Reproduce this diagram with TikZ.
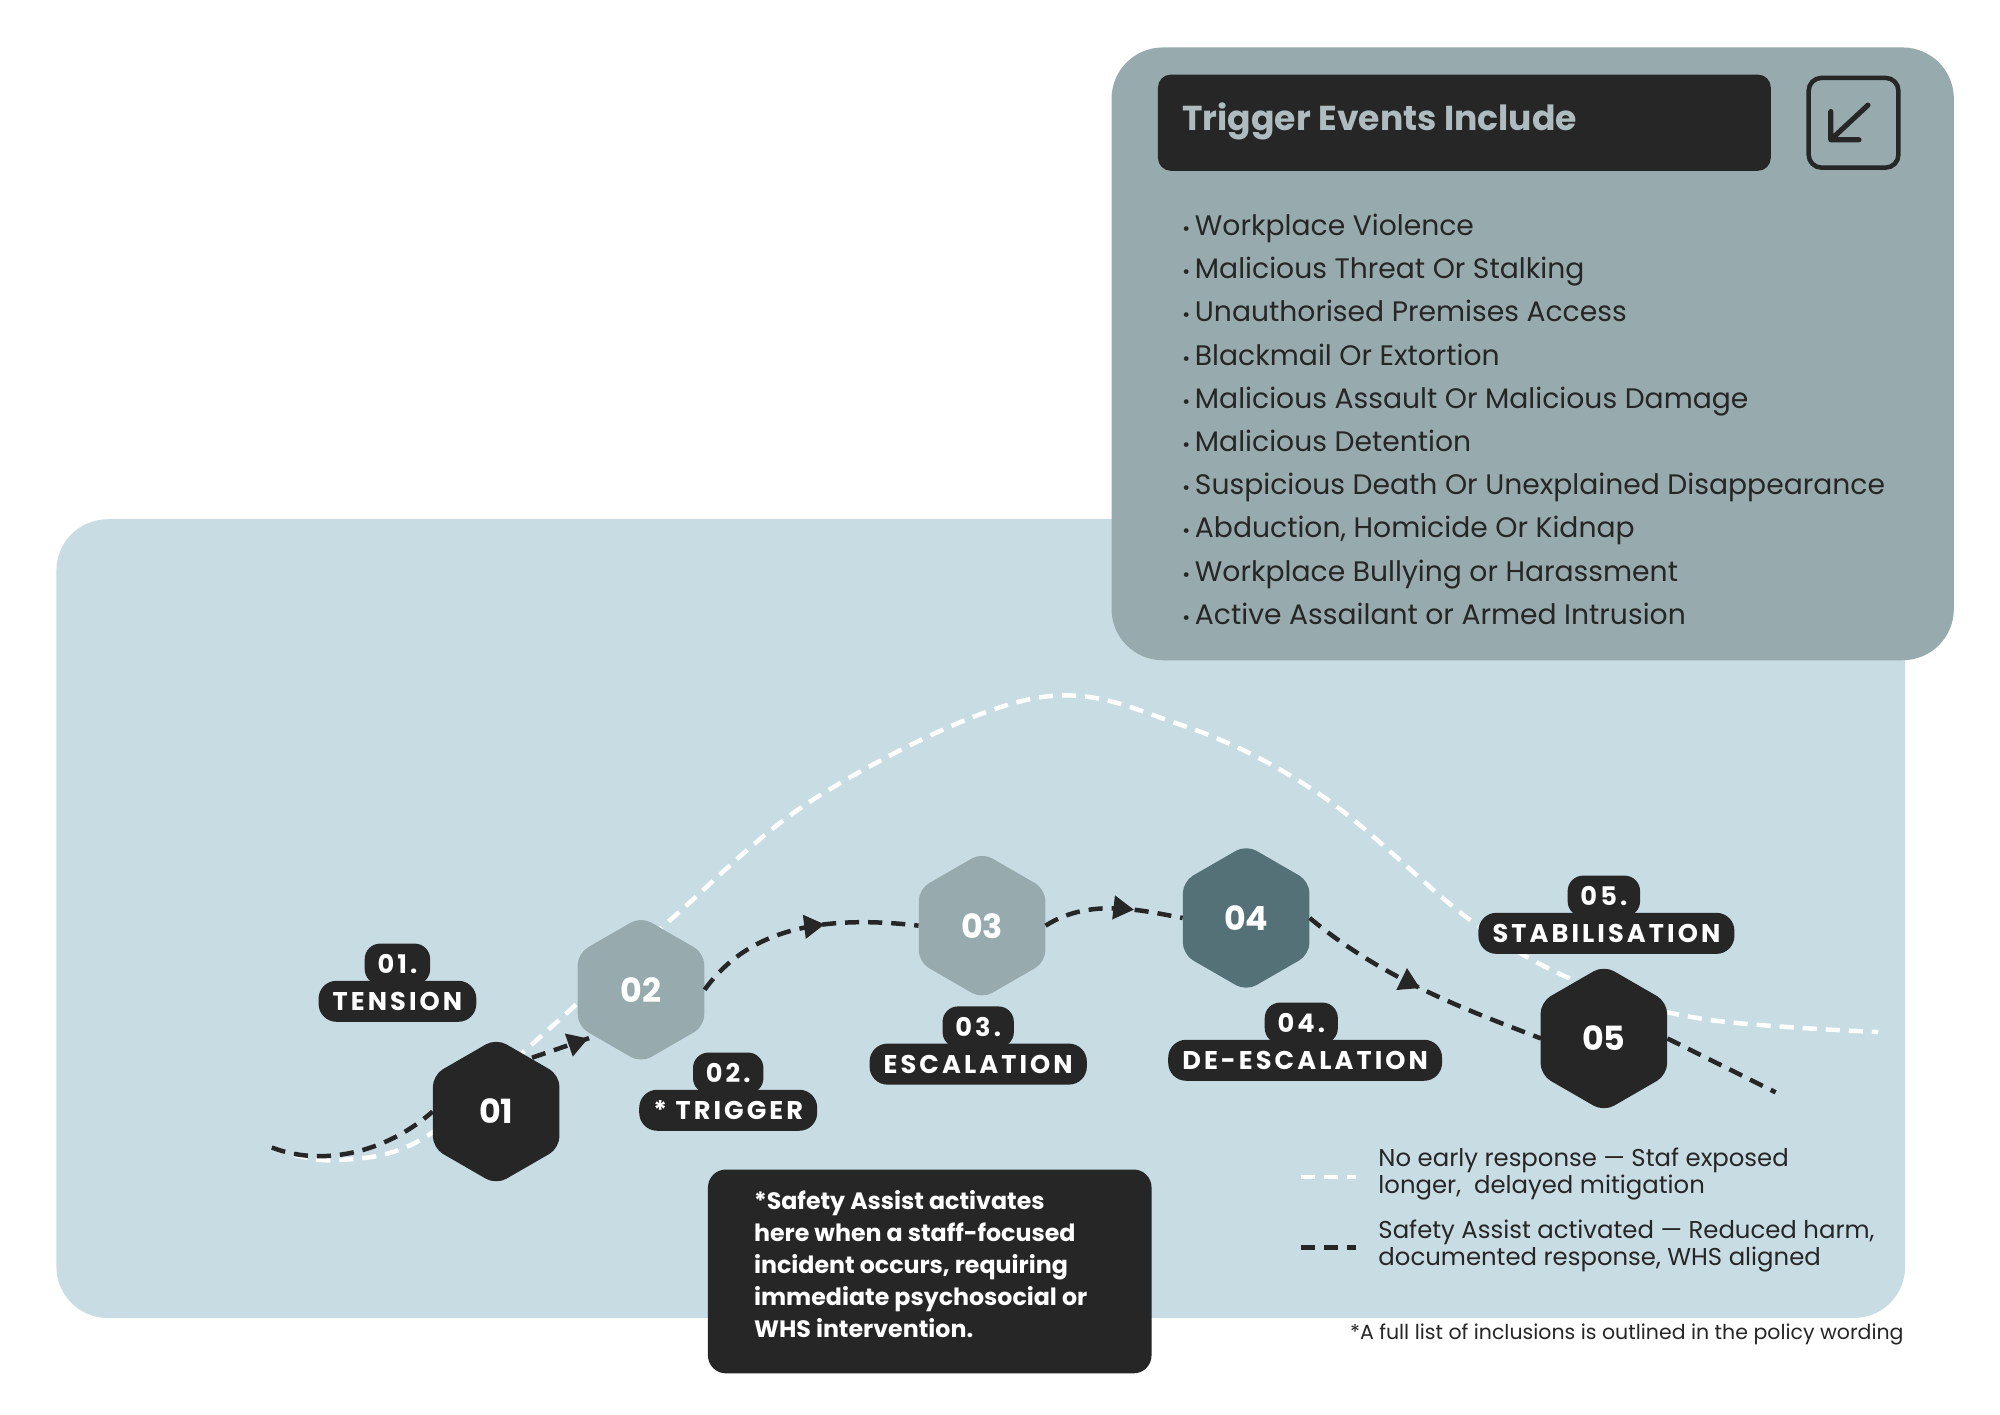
\documentclass[tikz,border=0pt]{standalone}
\usepackage{fontspec}
\setmainfont{Poppins}
\newfontfamily\lblfont[LetterSpace=12]{Poppins}
\usetikzlibrary{shapes.geometric,arrows.meta,decorations.markings}
\definecolor{bgblue}{HTML}{C8DCE4}
\definecolor{panel}{HTML}{97AAAE}
\definecolor{dark}{HTML}{262626}
\definecolor{teal}{HTML}{547178}
\definecolor{titlegrey}{HTML}{AEBCBF}
\tikzset{
 hexa/.style={regular polygon, regular polygon sides=6, shape border rotate=30, minimum size=114pt, inner sep=0pt, rounded corners=9pt, text=white, font=\fontsize{26}{30}\selectfont\bfseries},
 pill/.style={fill=dark, rounded corners=14pt, minimum height=32pt, inner xsep=11pt, inner ysep=0pt, text=white, font=\lblfont\fontsize{20}{24}\selectfont\bfseries},
 tabl/.style={fill=dark, rounded corners=12pt, minimum height=32pt, inner xsep=10pt, inner ysep=0pt, text=white, font=\lblfont\fontsize{20}{24}\selectfont\bfseries},
 whitedash/.style={white, line width=3.5pt, dash pattern=on 11pt off 7pt},
 darkdash/.style={dark, line width=3.5pt, dash pattern=on 11pt off 7pt},
 arrmid/.style={postaction={decorate}, decoration={markings, mark=at position #1 with {\arrow{Triangle[length=16pt,width=18pt]}}}},
 listitem/.style={anchor=base west, text=dark, font=\fontsize{22}{26}\selectfont, inner sep=0pt},
 legend/.style={anchor=west, align=left, text=dark, font=\fontsize{19}{21}\selectfont, inner sep=0pt},
}
\begin{document}
\begin{tikzpicture}[x=1pt,y=-1pt]
\useasboundingbox (0,0) rectangle (1560,1103);
\fill[white] (0,0) rectangle (1560,1103);
% backgrounds
\fill[bgblue, rounded corners=40pt] (44,405) rectangle (1486,1028);
\fill[panel, rounded corners=40pt] (867,37) rectangle (1524,515);
\node[fill=dark, rounded corners=10pt, minimum width=478pt, minimum height=75pt, anchor=north west, inner sep=0pt] (title) at (903,58) {};
\node[anchor=west, text=titlegrey, font=\fontsize{27}{32}\selectfont\bfseries, inner sep=0pt] (titletext) at (922,95) {Trigger Events Include};
\node[draw=dark, line width=3.5pt, rounded corners=10pt, minimum width=70pt, minimum height=70pt, anchor=north west, inner sep=0pt] (icon) at (1409,59) {};
\coordinate (ia) at (1457,82); \coordinate (ib) at (1428,109);
\draw[dark, line width=4pt, line cap=round, line join=round] (ia) -- (ib) -- ++(0,-22) (ib) -- ++(22,0);
% list
\foreach \t [count=\i] in {Workplace Violence, Malicious Threat Or Stalking, Unauthorised Premises Access, Blackmail Or Extortion, Malicious Assault Or Malicious Damage, Malicious Detention, Suspicious Death Or Unexplained Disappearance, {Abduction, Homicide Or Kidnap}, Workplace Bullying or Harassment, Active Assailant or Armed Intrusion}
 \node[listitem] (li\i) at (922,150+\i*33.7) {{\fontsize{15}{15}\selectfont•}\,\t};
% white curve
\draw[whitedash] plot[smooth, tension=0.6] coordinates {(212,895) (260,905) (330,888) (420,810) (520,720) (640,620) (805,545) (920,565) (1030,620) (1150,720) (1240,770) (1330,795) (1465,805)};
% hexagons
\node[hexa, fill=dark] (h1) at (387,867) {01};
\node[hexa, fill=panel] (h2) at (500,772) {02};
\node[hexa, fill=panel] (h3) at (766,722) {03};
\node[hexa, fill=teal] (h4) at (972,716) {04};
\node[hexa, fill=dark] (h5) at (1251,810) {05};
% dark curve
\coordinate (s) at (212,895); \coordinate (e) at (1385,852);
\draw[darkdash] (s) .. controls (250,910) and (300,900) .. (h1.west);
\draw[darkdash, arrmid=0.9] (415,825) -- (h2.south west);
\draw[darkdash, arrmid=0.6] (h2.east) .. controls (580,730) and (630,712) .. (h3.west);
\draw[darkdash, arrmid=0.65] (h3.east) .. controls (850,700) and (890,710) .. (h4.west);
\draw[darkdash, arrmid=0.5] (h4.east) .. controls (1080,765) and (1150,790) .. (1202,810);
\draw[darkdash] (h5.east) -- (e);
% labels
\node[tabl] (t1) at (310,752) {01.}; \node[pill] (p1) at (310,781) {TENSION};
\node[tabl] (t2) at (568,837) {02.}; \node[pill] (p2) at (568,866) {* TRIGGER};
\node[tabl] (t3) at (763,801) {03.}; \node[pill] (p3) at (763,830) {ESCALATION};
\node[tabl] (t4) at (1015,798) {04.}; \node[pill] (p4) at (1018,827) {DE-ESCALATION};
\node[tabl] (t5) at (1251,699) {05.}; \node[pill] (p5) at (1253,728) {STABILISATION};
% note
\node[fill=dark, rounded corners=14pt, minimum width=346pt, minimum height=159pt, anchor=north west, inner sep=0pt] (note) at (552,912) {};
\node[anchor=north west, align=left, text=white, font=\fontsize{18.5}{25}\selectfont\bfseries, inner sep=0pt] (notetext) at (588,928) {*Safety Assist activates\\here when a staff-focused\\incident occurs, requiring\\immediate psychosocial or\\WHS intervention.};
% legend
\coordinate (l1a) at (1015,918); \coordinate (l1b) at (1058,918);
\draw[whitedash] (l1a) -- (l1b);
\node[legend] (lt1) at (1075,916) {No early response — Staf exposed\\longer,\ \ delayed mitigation};
\coordinate (l2a) at (1015,973); \coordinate (l2b) at (1058,973);
\draw[darkdash] (l2a) -- (l2b);
\node[legend] (lt2) at (1075,972) {Safety Assist activated — Reduced harm,\\documented response, WHS aligned};
\node[anchor=east, text=dark, font=\fontsize{16}{19}\selectfont, inner sep=0pt] (foot) at (1485,1041) {*A full list of inclusions is outlined in the policy wording};
\end{tikzpicture}
\end{document}
